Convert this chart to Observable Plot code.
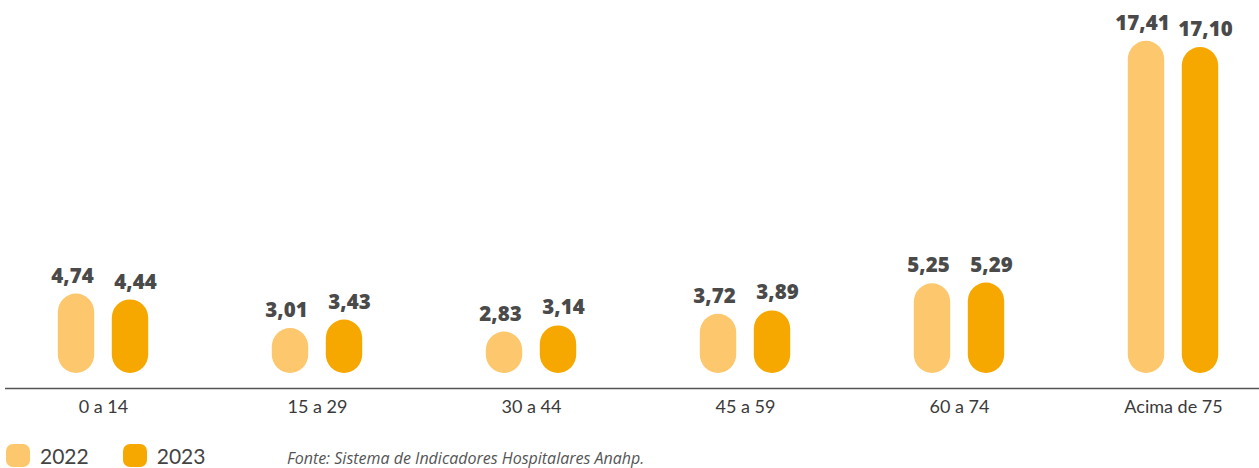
<!DOCTYPE html>
<html>
<head>
<meta charset="utf-8">
<script src="https://cdn.jsdelivr.net/npm/d3@7"></script>
<script src="https://cdn.jsdelivr.net/npm/@observablehq/plot@0.6"></script>
<style>
  html, body { margin: 0; padding: 0; background: #fff; }
  #wrap { position: relative; width: 1259px; height: 468px; overflow: hidden; font-family: Lato, "Open Sans", sans-serif; }
  #chart { position: absolute; left: 0; top: 0; }
  #legend { position: absolute; left: 6px; top: 444px; display: flex; align-items: center; height: 23px; }
  .item { display: flex; align-items: center; margin-right: 34px; font-size: 21px; color: #444; }
  .sw { width: 24px; height: 23px; border-radius: 7px; margin-right: 10px; }
  #caption { position: absolute; left: 287px; top: 447px; font-family: "Open Sans", Lato, sans-serif; font-size: 16px; font-style: italic; font-weight: 400; color: #555; }
</style>
</head>
<body>
<div id="wrap">
  <div id="chart"></div>
  <div id="legend"></div>
  <div id="caption">Fonte: Sistema de Indicadores Hospitalares Anahp.</div>
</div>
<script>
const groups = ["0 a 14", "15 a 29", "30 a 44", "45 a 59", "60 a 74", "Acima de 75"];
const years = ["2022", "2023"];
const values2022 = [4.74, 3.01, 2.83, 3.72, 5.25, 17.41];
const values2023 = [4.44, 3.43, 3.14, 3.89, 5.29, 17.10];
const colors = ["#FCC76D", "#F6A800"];

const rows2022 = groups.map((g, i) => ({group: g, year: years[0], value: values2022[i]}));
const rows2023 = groups.map((g, i) => ({group: g, year: years[1], value: values2023[i]}));
const fmt = v => d3.format(".2f")(v).replace(".", ",");

const barOpts = {insetLeft: 88.8, insetRight: 88.8, insetBottom: 15, rx: 18.5};
const textOpts = {dy: -18, fontSize: 20.5, fontWeight: 800, fill: "#4a4a4a", fontFamily: "'Open Sans', Lato, sans-serif"};

const plot = Plot.plot({
  width: 1259,
  height: 430,
  marginTop: 40,
  marginBottom: 42,
  marginLeft: 5,
  marginRight: 0,
  style: {fontFamily: "Lato, 'Open Sans', sans-serif", background: "transparent"},
  x: {type: "band", domain: groups, range: [-5.3, 1282.3], padding: 0},
  y: {domain: [0, 17.45], axis: null},
  marks: [
    Plot.barY(rows2022, {x: "group", y: "value", fill: colors[0], dx: -27, ...barOpts}),
    Plot.barY(rows2023, {x: "group", y: "value", fill: colors[1], dx: 27, ...barOpts}),
    Plot.text(rows2022, {x: "group", y: "value", text: d => fmt(d.value), dx: -31, ...textOpts}),
    Plot.text(rows2023, {x: "group", y: "value", text: d => fmt(d.value), dx: 32, ...textOpts}),
    Plot.ruleY([0], {stroke: "#555", strokeWidth: 1.5}),
    Plot.axisX({tickSize: 0, tickPadding: 12, fontSize: 18, fill: "#3a3a3a", label: null})
  ]
});
document.getElementById("chart").appendChild(plot);

const legend = document.getElementById("legend");
years.forEach((y, i) => {
  const item = document.createElement("div");
  item.className = "item";
  const sw = document.createElement("div");
  sw.className = "sw";
  sw.style.background = colors[i];
  const t = document.createElement("span");
  t.textContent = y;
  item.appendChild(sw);
  item.appendChild(t);
  legend.appendChild(item);
});
</script>
</body>
</html>
